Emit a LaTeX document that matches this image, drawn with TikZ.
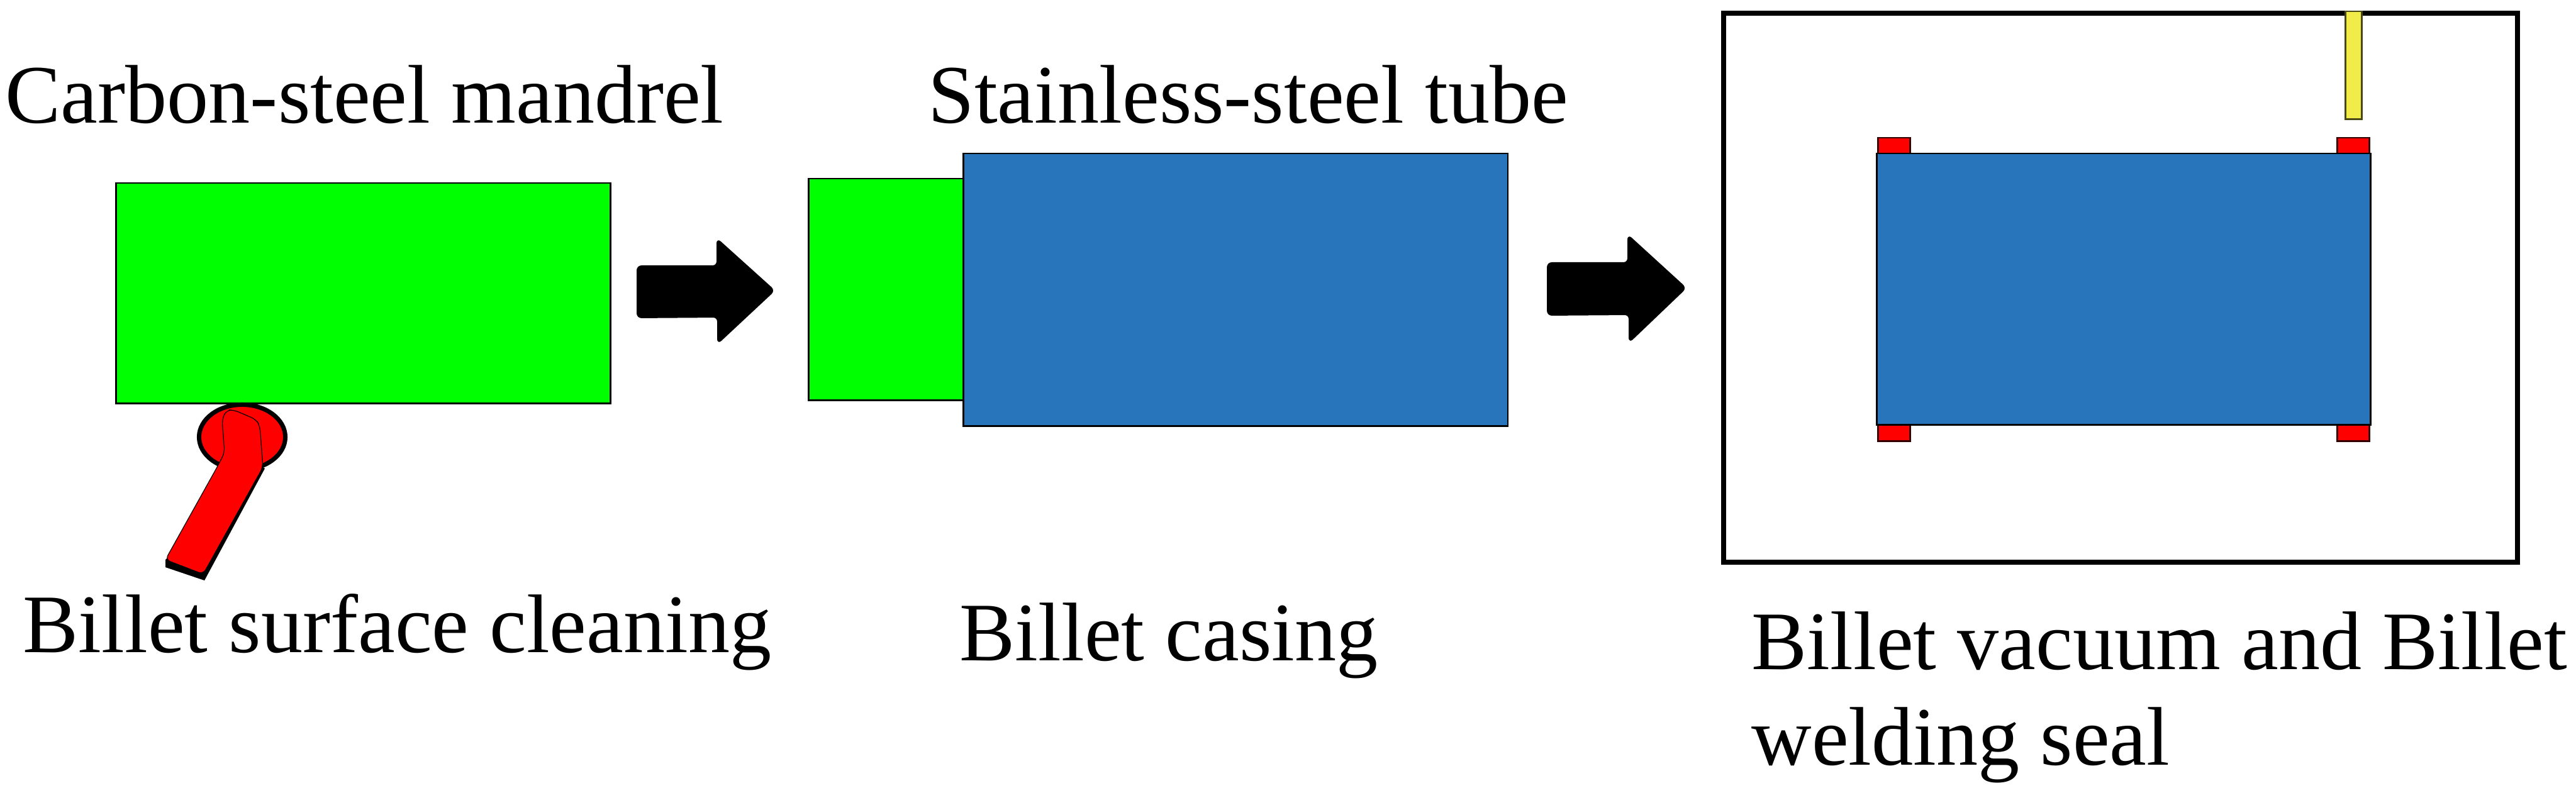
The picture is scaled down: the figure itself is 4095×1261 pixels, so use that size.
\documentclass[tikz,border=0pt]{standalone}
\usepackage{xcolor}
\usepackage{fontspec}
\setmainfont{Liberation Serif}
\usetikzlibrary{shapes,arrows,positioning,calc}
\definecolor{tubeblue}{RGB}{41,117,187}
\definecolor{mandrelgreen}{RGB}{0,255,0}
\definecolor{wireyellow}{RGB}{242,236,75}

\begin{document}
\begin{tikzpicture}[
        x=0.01cm, y=-0.01cm,
        block/.style={rectangle, draw=black, line width=0.025cm, inner sep=0pt, anchor=north west},
        mandrel/.style={block, fill=mandrelgreen},
        tube/.style={block, fill=tubeblue},
        tack/.style={block, draw=black!80!red, fill=red, minimum width=0.51cm, minimum height=0.26cm},
        caption/.style={anchor=base west, inner sep=0pt, align=left, font=\fontsize{37.6}{43}\selectfont},
        bigarrow/.style={fill=black, draw=black, line width=0.02cm, rounded corners=0.07cm}]

        \useasboundingbox (0,0) rectangle (4095,1261);

        % Outer chamber
        \node[block, line width=0.08cm, minimum width=12.61cm, minimum height=8.72cm] (CHAMBER) at (2736,17) {};

        % Bare mandrel
        \node[mandrel, minimum width=7.86cm, minimum height=3.5cm] (MANDREL) at (183,290) {};

        % Cased billet
        \node[mandrel, minimum width=3.02cm, minimum height=3.52cm] (CORE) at (1284,283) {};
        \node[tube, minimum width=8.65cm, minimum height=4.33cm] (CASE) at (1530,243) {};

        % Sealed billet
        \node[tack] (TL) at (2984,218) {};
        \node[tack] (TR) at (3714,218) {};
        \node[tack] (BL) at (2984,674) {};
        \node[tack] (BR) at (3714,674) {};
        \node[tube, minimum width=7.85cm, minimum height=4.31cm] (SEALED) at (2982,243) {};
        \node[block, draw=black!70!wireyellow, fill=wireyellow, minimum width=0.26cm, minimum height=1.71cm] (TORCH) at (3727,17) {};

        % Cleaning brush
        \node[ellipse, draw=black, line width=0.07cm, fill=red, minimum width=1.37cm, minimum height=1.03cm, inner sep=0pt] (BRUSH) at (385,695) {};
        \fill[black] (263,890) -- (263,902) -- (325,923) -- (421,745) -- (418,743) -- cycle;
        \draw[fill=red, draw=black, line width=0.012cm, rounded corners=0.08cm] (345,743) -- (357,720) -- (353,667) -- (360,652) -- (372,652) -- (407,667) -- (413,677) -- (418,743) -- (323,913) -- (263,890) -- cycle;

        % Process arrows
        \draw[bigarrow] (1013,423) -- (1140,423) -- (1140,380) -- (1231,462) -- (1141,546) -- (1141,504) -- (1013,505) -- cycle;
        \draw[bigarrow] (2460,418) -- (2588,418) -- (2588,374) -- (2680,458) -- (2590,544) -- (2590,500) -- (2460,501) -- cycle;

        % Labels
        \node[caption] (LCARBON) at (8,196) {Carbon-steel mandrel};
        \node[caption] (LSTAIN) at (1475,196) {Stainless-steel tube};
        \node[caption] (LCLEAN) at (36,1037) {Billet surface cleaning};
        \node[caption] (LCASE) at (1525,1050) {Billet casing};
        \node[caption] (LSEAL) at (2784,1216) {Billet vacuum and Billet\\welding seal};

    \end{tikzpicture}
\end{document}
